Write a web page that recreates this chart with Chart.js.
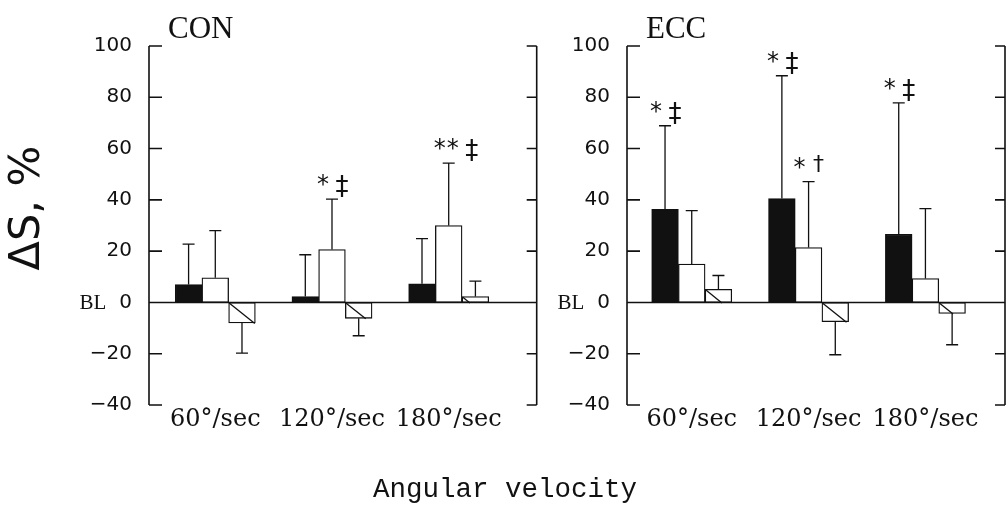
<!DOCTYPE html>
<html><head><meta charset="utf-8">
<script src="https://cdn.jsdelivr.net/npm/chart.js@4.4.0/dist/chart.umd.min.js"></script>
<style>
html,body{margin:0;padding:0;background:#fff;}
#wrap{position:relative;width:1008px;height:514px;overflow:hidden;background:#fff;}
canvas{position:absolute;top:0;}
#c1{left:0;}
#c2{left:545px;}
#xt{position:absolute;left:373px;top:475px;line-height:30px;white-space:nowrap;font-family:"Liberation Mono",monospace;font-size:27.5px;color:#111;}
</style></head><body>
<div id="wrap">
<canvas id="c1" width="545" height="514"></canvas>
<canvas id="c2" width="463" height="514"></canvas>
<div id="xt">Angular velocity</div>
</div>
<script>
// ---- data ----
const categories = ['60°/sec', '120°/sec', '180°/sec'];
const seriesLabels = ['Solid bars', 'Open bars', 'Hatched bars'];
const yTickValues = [-40, -20, 0, 20, 40, 60, 80, 100];

const conSolid     = [7.0, 2.3, 7.3];
const conSolidSD   = [15.7, 16.3, 17.6];
const conOpen      = [9.6, 20.6, 30.0];
const conOpenSD    = [18.4, 19.7, 24.3];
const conHatched   = [-8.0, -6.2, 2.3];
const conHatchedSD = [11.8, 6.8, 6.0];
const conSolidSig   = ['', '', ''];
const conOpenSig    = ['', '*‡', '**‡'];
const conHatchedSig = ['', '', ''];

const eccSolid     = [36.3, 40.5, 26.6];
const eccSolidSD   = [32.6, 47.9, 51.2];
const eccOpen      = [15.0, 21.4, 9.3];
const eccOpenSD    = [20.8, 25.7, 27.3];
const eccHatched   = [5.1, -7.5, -4.3];
const eccHatchedSD = [5.4, 12.9, 12.2];
const eccSolidSig   = ['*‡', '*‡', '*‡'];
const eccOpenSig    = ['', '*†', ''];
const eccHatchedSig = ['', '', ''];

// ---- styling ----
const INK = '#111';

const decor = {
  id: 'decor',
  afterDatasetsDraw(chart, args, opts) {
    const {ctx, chartArea: a, scales: {y}} = chart;
    ctx.save();
    ctx.strokeStyle = INK;
    ctx.fillStyle = INK;
    ctx.lineWidth = 1.3;
    chart.data.datasets.forEach((ds, di) => {
      const meta = chart.getDatasetMeta(di);
      meta.data.forEach((bar, i) => {
        const p = bar.getProps(['x', 'y', 'base', 'width'], true);
        const left = p.x - p.width / 2, right = p.x + p.width / 2;
        const top = Math.min(p.y, p.base), bottom = Math.max(p.y, p.base);
        if (ds.hatch) {
          const h = bottom - top, w = right - left;
          const dx = Math.min(w - 1, h / 0.8);
          ctx.beginPath();
          ctx.moveTo(left + 0.5, top + 0.5);
          ctx.lineTo(left + 0.5 + dx, top + 0.5 + dx * 0.8);
          ctx.stroke();
        }
        const v = ds.data[i].y, sd = ds.sd[i];
        const end = v >= 0 ? v + sd : v - sd;
        const ye = y.getPixelForValue(end);
        ctx.beginPath();
        ctx.moveTo(p.x, p.y);
        ctx.lineTo(p.x, ye);
        ctx.moveTo(p.x - 6, ye);
        ctx.lineTo(p.x + 6, ye);
        ctx.stroke();
        const sig = ds.sig[i];
        if (sig) {
          const m = sig.match(/^(\*+)(.*)$/);
          const n = m[1].length;
          ctx.textAlign = 'center';
          ctx.textBaseline = 'alphabetic';
          const ss = 24;
          ctx.font = ss + 'px "DejaVu Sans"';
          for (let k = 0; k < n; k++) {
            ctx.fillText('*', p.x - 9 + 13 * k, ye - 21 + 0.58 * ss);
          }
          const dag = m[2];
          const ds2 = dag === '†' ? 22 : 26;
          ctx.font = ds2 + 'px "DejaVu Sans"';
          ctx.fillText(dag, p.x - 9 + 13 * (n - 1) + 19, ye - (dag === '†' ? 17 : 12) + 0.31 * ds2);
        }
      });
    });
    // frame: axes, inward ticks, zero line
    ctx.lineWidth = 1.6;
    ctx.beginPath();
    ctx.moveTo(a.left, a.top); ctx.lineTo(a.left, a.bottom);
    ctx.moveTo(a.right, a.top); ctx.lineTo(a.right, a.bottom);
    yTickValues.forEach(v => {
      const py = y.getPixelForValue(v);
      ctx.moveTo(a.left, py); ctx.lineTo(a.left + 13, py);
      ctx.moveTo(a.right - 10, py); ctx.lineTo(a.right, py);
    });
    const y0 = y.getPixelForValue(0);
    ctx.moveTo(a.left, y0); ctx.lineTo(a.right, y0);
    ctx.stroke();
    // BL prefix for the zero tick
    ctx.font = '20px "DejaVu Sans"';
    const zw = ctx.measureText('0').width;
    ctx.font = '21px "Liberation Serif"';
    ctx.textAlign = 'right';
    ctx.textBaseline = 'middle';
    ctx.fillText('BL', a.left - 17 - zw - 13, y0 + 1);
    // panel title
    ctx.font = '31px "Liberation Serif"';
    ctx.textAlign = 'left';
    ctx.textBaseline = 'alphabetic';
    ctx.fillText(opts.title, a.left + 19, 38);
    // y axis title
    if (opts.yTitle) {
      ctx.save();
      ctx.translate(28, 208);
      ctx.rotate(-Math.PI / 2);
      ctx.font = '43px "DejaVu Sans"';
      ctx.textAlign = 'center';
      ctx.textBaseline = 'middle';
      ctx.fillText(opts.yTitle, 0, 0);
      ctx.restore();
    }
    ctx.restore();
  }
};

function mk(label, vals, sd, sig, fill, hatch) {
  return {
    label, sd, sig, hatch,
    data: vals.map((v, i) => ({x: i + 1, y: v})),
    backgroundColor: fill,
    borderColor: INK,
    borderWidth: 1.3,
    borderSkipped: false,
    barThickness: 26.7
  };
}

function makePanel(id, cfg) {
  return new Chart(document.getElementById(id), {
    type: 'bar',
    data: {
      datasets: [
        mk(seriesLabels[0], cfg.solid, cfg.solidSD, cfg.solidSig, INK, false),
        mk(seriesLabels[1], cfg.open, cfg.openSD, cfg.openSig, '#fff', false),
        mk(seriesLabels[2], cfg.hatched, cfg.hatchedSD, cfg.hatchedSig, '#fff', true)
      ]
    },
    options: {
      responsive: false,
      animation: false,
      devicePixelRatio: 1,
      layout: {padding: {top: 46, bottom: 49, left: 0, right: cfg.padRight}},
      plugins: {
        legend: {display: false},
        tooltip: {enabled: false},
        decor: {title: cfg.title, yTitle: cfg.yTitle}
      },
      scales: {
        x: {
          type: 'linear', min: cfg.xmin, max: cfg.xmax, offset: false,
          grid: {display: false, drawTicks: false, offset: false},
          border: {display: false},
          afterBuildTicks: s => { s.ticks = categories.map((c, i) => ({value: i + 1})); },
          afterFit: s => { s.height = 60; },
          ticks: {
            autoSkip: false, maxRotation: 0, padding: 0, color: INK,
            font: {family: 'DejaVu Serif', size: 24},
            callback: v => categories[v - 1]
          }
        },
        y: {
          min: -40, max: 100,
          grid: {display: false, drawTicks: false},
          border: {display: false},
          afterBuildTicks: s => { s.ticks = yTickValues.map(v => ({value: v})); },
          afterFit: s => { s.width = cfg.yWidth; },
          ticks: {
            padding: 17, color: INK,
            font: {family: 'DejaVu Sans', size: 20},
            callback: v => v < 0 ? '\u2212' + Math.abs(v) : String(v)
          }
        }
      }
    },
    plugins: [decor]
  });
}

makePanel('c1', {
  title: 'CON', yTitle: 'ΔS, %',
  solid: conSolid, solidSD: conSolidSD, solidSig: conSolidSig,
  open: conOpen, openSD: conOpenSD, openSig: conOpenSig,
  hatched: conHatched, hatchedSD: conHatchedSD, hatchedSig: conHatchedSig,
  xmin: 0.432, xmax: 3.754, yWidth: 149, padRight: 8.3
});
makePanel('c2', {
  title: 'ECC', yTitle: '',
  solid: eccSolid, solidSD: eccSolidSD, solidSig: eccSolidSig,
  open: eccOpen, openSD: eccOpenSD, openSig: eccOpenSig,
  hatched: eccHatched, hatchedSD: eccHatchedSD, hatchedSig: eccHatchedSig,
  xmin: 0.446, xmax: 3.681, yWidth: 82, padRight: 3
});
</script>
</body></html>
